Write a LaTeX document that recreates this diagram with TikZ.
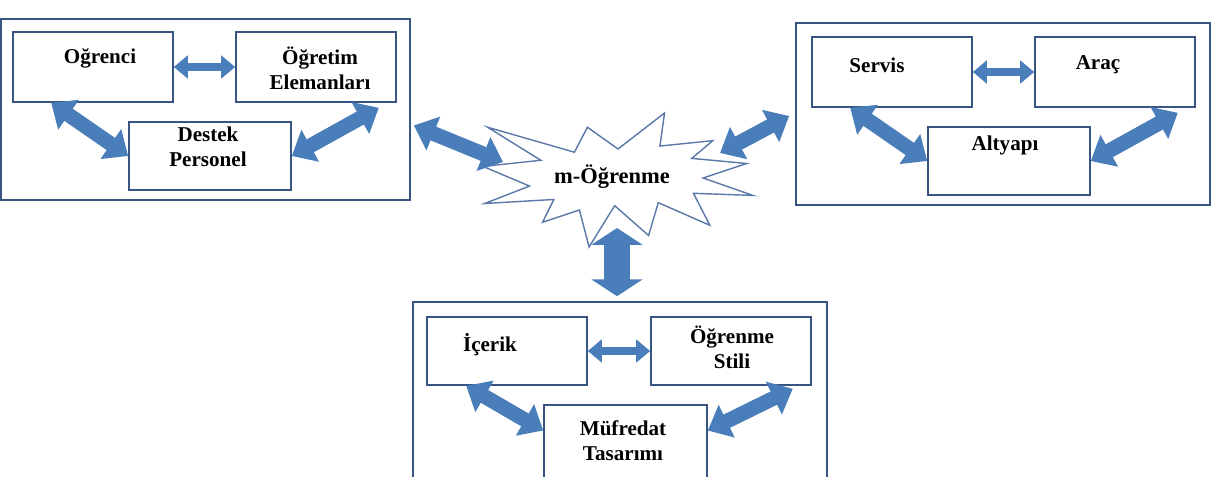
\documentclass[tikz,border=0pt]{standalone}
\usepackage{fontspec}
\setmainfont{Liberation Serif}
\usetikzlibrary{arrows.meta}

\definecolor{frame}{RGB}{56,84,130}
\definecolor{fatblue}{RGB}{74,126,187}
\definecolor{burstline}{RGB}{90,120,168}

\begin{document}
\begin{tikzpicture}[x=0.025cm, y=-0.025cm,
    group/.style={draw=frame, line width=1.1pt, inner sep=0pt},
    box/.style={draw=frame, line width=1.1pt, inner sep=0pt, minimum width=4cm, minimum height=1.75cm},
    lbl/.style={font=\fontsize{15}{18}\selectfont\bfseries, align=center, inner sep=1pt},
    link/.style={fatblue, line width=5.5pt, {Triangle[width=16pt,length=10pt]}-{Triangle[width=16pt,length=10pt]}},
    spoke/.style={fatblue, line width=10.5pt, {Triangle[width=25pt,length=15pt]}-{Triangle[width=25pt,length=15pt]}},
    trunk/.style={fatblue, line width=18pt, {Triangle[width=36pt,length=12pt]}-{Triangle[width=36pt,length=12pt]}},
    burst/.style={draw=burstline, line width=1pt, line join=miter}]

    % 画像の範囲
    \clip (0,0) rectangle (1216,476);

    % グループの枠
    \node[group, minimum width=10.225cm, minimum height=4.525cm] (leftgrp) at (205.5,109.5) {};
    \node[group, minimum width=10.35cm, minimum height=4.55cm] (rightgrp) at (1003,114) {};
    \node[group, minimum width=10.35cm, minimum height=4.825cm] (bottomgrp) at (620,398.5) {};

    % 箱
    \node[box] (ogrenci) at (93,67) {};
    \node[box] (ogretim) at (316,67) {};
    \node[box, minimum width=4.05cm, minimum height=1.7cm] (destek) at (210,156) {};
    \node[box] (servis) at (892,72) {};
    \node[box] (arac) at (1115,72) {};
    \node[box, minimum width=4.05cm, minimum height=1.7cm] (altyapi) at (1009,161) {};
    \node[box, minimum height=1.7cm] (icerik) at (507,351) {};
    \node[box, minimum height=1.7cm] (stil) at (731,351) {};
    \node[box, minimum width=4.075cm, minimum height=1.875cm] (mufredat) at (625.5,442.5) {};

    % ラベル
    \node[lbl] (tOgrenci) at (100,58) {Oğrenci};
    \node[lbl] (tOgretim) at (320,68) {Öğretim\\Elemanları};
    \node[lbl] (tDestek) at (208,147) {Destek\\Personel};
    \node[lbl] (tServis) at (877,65) {Servis};
    \node[lbl] (tArac) at (1098,65) {Araç};
    \node[lbl] (tAltyapi) at (1005,145) {Altyapı};
    \node[lbl] (tIcerik) at (490,345) {İçerik};
    \node[lbl] (tStil) at (732,347) {Öğrenme\\Stili};
    \node[lbl] (tMufredat) at (623,441) {Müfredat\\Tasarımı};

    % 中央の星形
    \begin{scope}[shift={(483,113)}, xscale=1.25, yscale=0.6204]
        \draw[burst] (108,58) -- (145.22,0) -- (141.55,53.25) -- (183.80,44.57)
            -- (167.02,73.15) -- (210.97,81.37) -- (176.07,104.75) -- (216,132.90)
            -- (168.37,129.42) -- (181.45,180.95) -- (140.20,144.57) -- (132.47,197.37)
            -- (105.32,149.35) -- (84.85,216) -- (77.15,156.27) -- (47.62,176.17)
            -- (56.67,139.37) -- (1.35,145.87) -- (37.22,117.75) -- (0,86.15)
            -- (46.27,76.17) -- (3.70,22.95) -- (73.12,63.20) -- (83.52,22.95) -- cycle;
    \end{scope}
    \node[lbl, font=\fontsize{16}{19}\selectfont\bfseries] (hub) at (612,177) {m-Öğrenme};
    \coordinate (burstW) at (503,162);
    \coordinate (burstE) at (720,153);
    \coordinate (burstS) at (617,228);

    % 箱の間の矢印
    \draw[link] (ogrenci.east) -- (ogretim.west);
    \draw[spoke] ([shift={(39,0)}]ogrenci.south west) -- (destek.west);
    \draw[spoke] (destek.east) -- ([shift={(-18,5)}]ogretim.south east);

    \draw[link] (servis.east) -- (arac.west);
    \draw[spoke] ([shift={(39,0)}]servis.south west) -- (altyapi.west);
    \draw[spoke] (altyapi.east) -- ([shift={(-18,5)}]arac.south east);

    \draw[link] (icerik.east) -- (stil.west);
    \draw[spoke] ([shift={(40,0)}]icerik.south west) -- ([shift={(0,-12)}]mufredat.west);
    \draw[spoke] ([shift={(0,-12)}]mufredat.east) -- ([shift={(-19,3)}]stil.south east);

    % 星形とグループの矢印
    \draw[spoke] ([shift={(3,16)}]leftgrp.east) -- (burstW);
    \draw[spoke] (burstE) -- ([shift={(-6,2)}]rightgrp.west);
    \draw[trunk] (burstS) -- ([shift={(-3,-5)}]bottomgrp.north);

\end{tikzpicture}
\end{document}
